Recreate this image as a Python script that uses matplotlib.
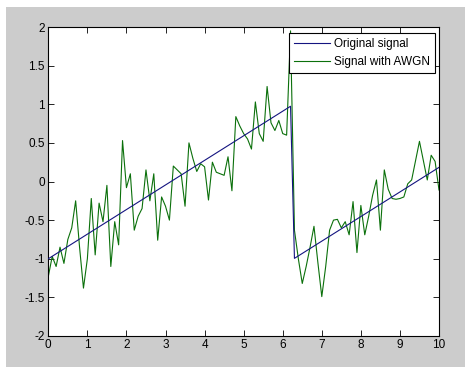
import numpy as np
import matplotlib.pyplot as plt
from matplotlib.patches import Rectangle

plt.rcParams['font.family'] = ['Liberation Sans', 'DejaVu Sans']

# original sawtooth signal (corner points)
t_orig = [0.0, 6.2, 6.3, 10.0]
y_orig = [-1.0, 0.974, -0.995, 0.183]

# noisy signal, sampled every 0.1
t_noise = np.arange(0, 101) / 10.0
y_noise = [-1.23, -0.97, -1.10, -0.85, -1.06, -0.75, -0.60, -0.25, -0.85, -1.38,
           -1.00, -0.22, -0.95, -0.28, -0.52, -0.05, -1.10, -0.52, -0.82, 0.53,
           -0.08, 0.10, -0.63, -0.45, -0.35, 0.15, -0.25, 0.10, -0.76, -0.20,
           -0.32, -0.50, 0.20, 0.15, 0.10, -0.32, 0.50, 0.30, 0.13, 0.23,
           0.19, -0.24, 0.25, 0.12, 0.10, 0.08, 0.32, -0.12, 0.84, 0.72,
           0.62, 0.55, 0.42, 1.03, 0.62, 0.52, 1.23, 0.76, 0.66, 0.79,
           0.62, 0.60, 1.95, -0.63, -1.00, -1.32, -1.10, -0.85, -0.58, -1.05,
           -1.49, -1.10, -0.63, -0.50, -0.49, -0.60, -0.52, -0.69, -0.26, -0.92,
           -0.31, -0.69, -0.45, -0.18, 0.02, -0.63, 0.15, -0.10, -0.22, -0.23,
           -0.22, -0.20, -0.03, 0.02, 0.27, 0.52, 0.27, 0.02, 0.34, 0.26,
           -0.11]

x_ticks = list(range(0, 11))
y_ticks = [-2, -1.5, -1, -0.5, 0, 0.5, 1, 1.5, 2]
y_tick_labels = ['-2', '-1.5', '-1', '-0.5', '0', '0.5', '1', '1.5', '2']

fig = plt.figure(figsize=(4.76, 3.71), dpi=100)
fig.patch.set_facecolor('white')
bg = Rectangle((6/476, 1-367/371), 459/476, 360/371,
               transform=fig.transFigure, facecolor='#cccccc',
               edgecolor='none', zorder=-10)
fig.add_artist(bg)

ax = fig.add_axes([48.3/476, 1-336/371, (439-48.3)/476, (336-27)/371])
ax.set_facecolor('white')

ax.plot(t_orig, y_orig, color='#141480', lw=0.8, label='Original signal', zorder=3)
ax.plot(t_noise, y_noise, color='#0b700b', lw=0.8, label='Signal with AWGN', zorder=2)

ax.set_xlim(0, 10)
ax.set_ylim(-2, 2)
ax.set_xticks(x_ticks)
ax.set_yticks(y_ticks)
ax.set_yticklabels(y_tick_labels)
ax.tick_params(direction='in', top=True, right=True, length=4, width=0.6,
               labelsize=8.5, pad=2.5)
for s in ax.spines.values():
    s.set_linewidth(0.8)

leg = ax.legend(loc='upper right', bbox_to_anchor=(0.99, 0.98), fontsize=8.5,
                frameon=True, fancybox=False, framealpha=1, edgecolor='black',
                borderpad=0.4, labelspacing=0.5, handlelength=3.1,
                handletextpad=0.35, borderaxespad=0)
leg.get_frame().set_linewidth(0.8)
leg.set_zorder(5)

fig.savefig('out.png', dpi=100, facecolor='white')
